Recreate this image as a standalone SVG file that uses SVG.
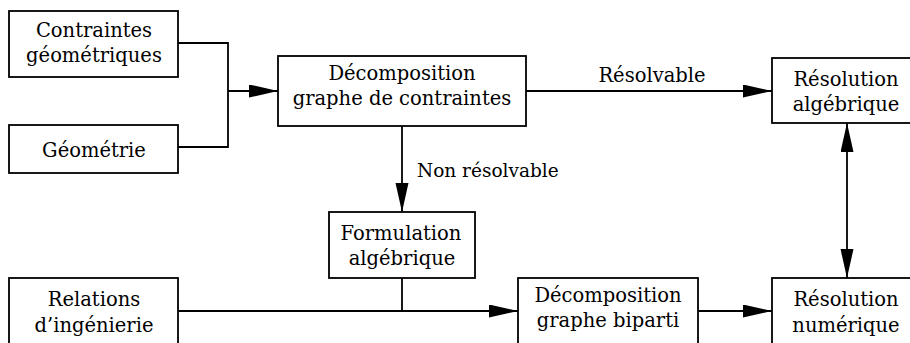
<svg xmlns="http://www.w3.org/2000/svg" width="910" height="343" viewBox="0 0 910 343">
<style>
  .box { fill: #fff; stroke: #000; stroke-width: 1.8; }
  .lbl { font-family: "DejaVu Serif", "Liberation Serif", serif; font-size: 19.5px; fill: #000; text-anchor: middle; }
  .lbl-s { font-family: "DejaVu Serif", "Liberation Serif", serif; font-size: 18.5px; fill: #000; }
  .edge { fill: none; stroke: #000; stroke-width: 1.8; }
</style>
<defs>
  <marker id="arr" markerUnits="userSpaceOnUse" markerWidth="30" markerHeight="14" refX="29" refY="6.5" orient="auto-start-reverse">
    <path d="M0,0 L29,6.5 L0,13 z" fill="#000"/>
  </marker>
</defs>
<rect width="910" height="343" fill="#fff"/>

<g id="connectors">
  <polyline class="edge" points="178,43 228,43 228,147 178,147"/>
  <line class="edge" x1="228" y1="91" x2="278" y2="91" marker-end="url(#arr)"/>
  <line class="edge" x1="526" y1="91" x2="772" y2="91" marker-end="url(#arr)"/>
  <text class="lbl" x="652" y="82">Résolvable</text>
  <line class="edge" x1="402" y1="126" x2="402" y2="212" marker-end="url(#arr)"/>
  <text class="lbl-s" x="417" y="177">Non résolvable</text>
  <line class="edge" x1="847" y1="123" x2="847" y2="278" marker-start="url(#arr)" marker-end="url(#arr)"/>
  <line class="edge" x1="178" y1="311" x2="518" y2="311" marker-end="url(#arr)"/>
  <line class="edge" x1="402" y1="278" x2="402" y2="311"/>
  <line class="edge" x1="698" y1="311" x2="772" y2="311" marker-end="url(#arr)"/>
</g>

<g id="contraintes">
  <rect class="box" x="9" y="11" width="169" height="66"/>
  <text class="lbl" x="94" y="37">Contraintes</text>
  <text class="lbl" x="94" y="62">géométriques</text>
</g>
<g id="geometrie">
  <rect class="box" x="9" y="125" width="169" height="48"/>
  <text class="lbl" x="94" y="157">Géométrie</text>
</g>
<g id="decomposition-contraintes">
  <rect class="box" x="278" y="56" width="248" height="70"/>
  <text class="lbl" x="402" y="80">Décomposition</text>
  <text class="lbl" x="402" y="105">graphe de contraintes</text>
</g>
<g id="resolution-algebrique">
  <rect class="box" x="772" y="58" width="150" height="65"/>
  <text class="lbl" x="846" y="86">Résolution</text>
  <text class="lbl" x="846" y="111">algébrique</text>
</g>
<g id="formulation">
  <rect class="box" x="329" y="212" width="146" height="66"/>
  <text class="lbl" x="401" y="240">Formulation</text>
  <text class="lbl" x="402" y="265">algébrique</text>
</g>
<g id="relations">
  <rect class="box" x="9" y="278" width="169" height="80"/>
  <text class="lbl" x="94" y="306">Relations</text>
  <text class="lbl" x="94" y="332">d’ingénierie</text>
</g>
<g id="decomposition-biparti">
  <rect class="box" x="518" y="278" width="180" height="80"/>
  <text class="lbl" x="608" y="302">Décomposition</text>
  <text class="lbl" x="608" y="327">graphe biparti</text>
</g>
<g id="resolution-numerique">
  <rect class="box" x="772" y="278" width="150" height="80"/>
  <text class="lbl" x="846" y="306">Résolution</text>
  <text class="lbl" x="846" y="332">numérique</text>
</g>
</svg>
